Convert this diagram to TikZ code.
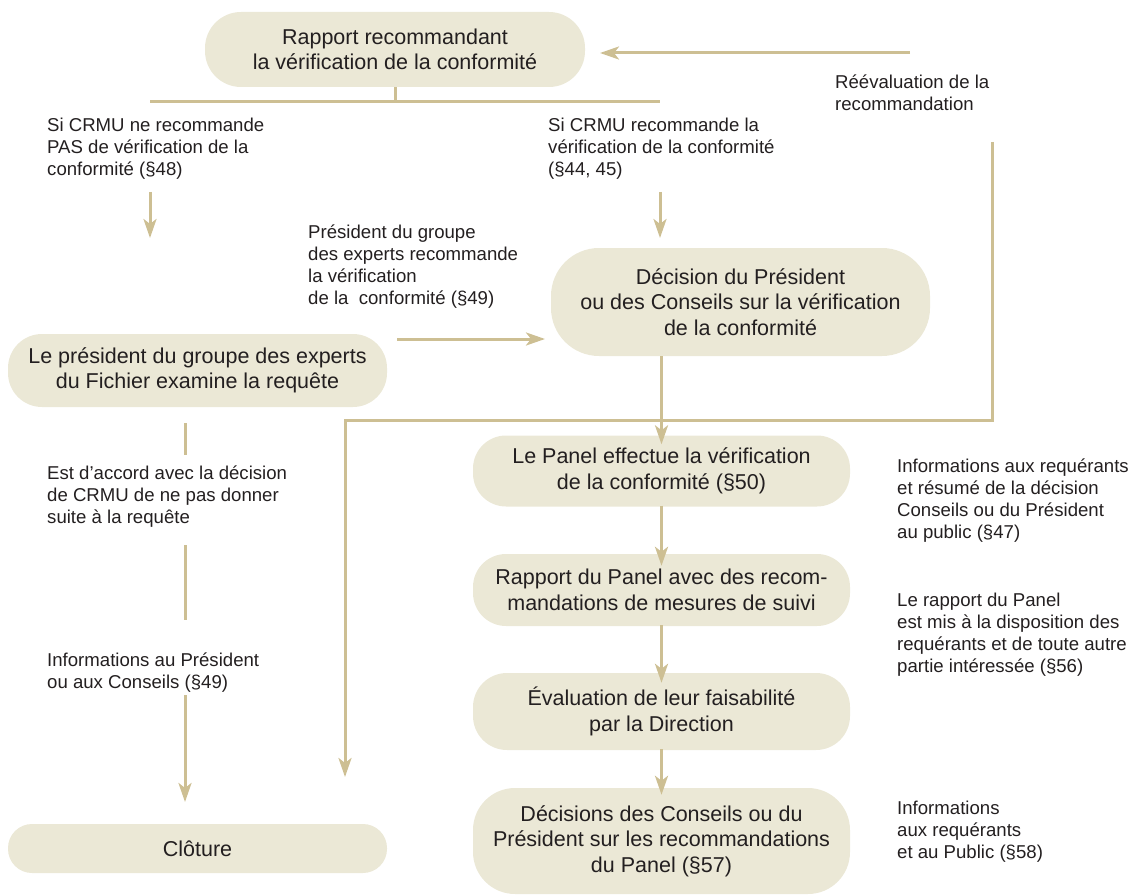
\documentclass[tikz,border=0pt]{standalone}
\usepackage{fontspec}
\setmainfont{Liberation Sans}
\usetikzlibrary{arrows.meta}
\definecolor{boxfill}{HTML}{EBE8D6}
\definecolor{linec}{HTML}{CDBF93}
\definecolor{txt}{HTML}{231F20}
\begin{document}
\begin{tikzpicture}[x=1pt,y=-1pt,
  box/.style={fill=boxfill,draw=none,align=center,text=txt,inner sep=0pt,
    font=\fontsize{21.5}{25.5}\selectfont},
  lbl/.style={anchor=north west,align=left,inner sep=0pt,text=txt,
    font=\fontsize{18.6}{21.8}\selectfont},
  conn/.style={draw=linec,line width=3pt},
  arr/.style={conn,-{Stealth[length=19pt,width=13pt,inset=5pt]}}]
\useasboundingbox (0,0) rectangle (1137,896);

% boxes
\node[box,minimum width=380pt,minimum height=75pt,rounded corners=36pt] (rap) at (395,49.5)
  {Rapport recommandant\\la vérification de la conformité};
\node[box,minimum width=379pt,minimum height=108pt,rounded corners=48pt] (dec) at (740.5,302)
  {Décision du Président\\ou des Conseils sur la vérification\\de la conformité};
\node[box,minimum width=379pt,minimum height=73pt,rounded corners=34pt] (pres) at (197.5,370.5)
  {Le président du groupe des experts\\du Fichier examine la requête};
\node[box,minimum width=377pt,minimum height=71pt,rounded corners=33pt] (panel) at (661.5,471)
  {Le Panel effectue la vérification\\de la conformité (§50)};
\node[box,minimum width=377pt,minimum height=72pt,rounded corners=33pt] (rpan) at (661.5,590)
  {Rapport du Panel avec des recom-\\mandations de mesures de suivi};
\node[box,minimum width=377pt,minimum height=77pt,rounded corners=34pt] (eval) at (661.5,711.5)
  {Évaluation de leur faisabilité\\par la Direction};
\node[box,minimum width=377pt,minimum height=106pt,rounded corners=42pt] (decs) at (661.5,841)
  {Décisions des Conseils ou du\\Président sur les recommandations\\du Panel (§57)};
\node[box,minimum width=379pt,minimum height=49pt,rounded corners=24pt] (clot) at (197.5,848.5)
  {Clôture};

% labels
\node[lbl] (l1) at (47,118) {Si CRMU ne recommande\\PAS de vérification de la\\conformité (§48)};
\node[lbl] (l2) at (548,118) {Si CRMU recommande la\\vérification de la conformité\\(§44, 45)};
\node[lbl] (l3) at (835,75) {Réévaluation de la\\recommandation};
\node[lbl] (l4) at (308,225) {Président du groupe\\des experts recommande\\la vérification\\de la\ \ conformité (§49)};
\node[lbl] (l5) at (47,466) {Est d’accord avec la décision\\de CRMU de ne pas donner\\suite à la requête};
\node[lbl] (l6) at (47,653) {Informations au Président\\ou aux Conseils (§49)};
\node[lbl] (l7) at (897,459) {Informations aux requérants\\et résumé de la décision\\Conseils ou du Président\\au public (§47)};
\node[lbl] (l8) at (897,593) {Le rapport du Panel\\est mis à la disposition des\\requérants et de toute autre\\partie intéressée (§56)};
\node[lbl] (l9) at (897,801) {Informations\\aux requérants\\et au Public (§58)};

% coordinates
\coordinate (hm) at (395,102);
\coordinate (hl) at (150,102);
\coordinate (hr) at (660,102);
\coordinate (al1) at (150,192);
\coordinate (al2) at (150,238);
\coordinate (ar1) at (660,192);
\coordinate (ar2) at (660,238);
\coordinate (re1) at (910,53);
\coordinate (re2) at (600,53);
\coordinate (lp1) at (992,142);
\coordinate (lp2) at (992,420);
\coordinate (lp3) at (345,420);
\coordinate (lp4) at (345,777);
\coordinate (pa1) at (397,339);
\coordinate (pa2) at (545,339);
\coordinate (c1) at (185,423);
\coordinate (c2) at (185,455);
\coordinate (c3) at (185,545);
\coordinate (c4) at (185,620);
\coordinate (c5) at (185,695);
\coordinate (c6) at (185,802);

% connectors
\draw[conn] (rap.south) -- (hm);
\draw[conn] (hl) -- (hr);
\draw[arr] (al1) -- (al2);
\draw[arr] (ar1) -- (ar2);
\draw[arr] (re1) -- (re2);
\draw[arr] (lp1) -- (lp2) -- (lp3) -- (lp4);
\draw[arr] (pa1) -- (pa2);
\draw[arr] (panel.north |- dec.south) -- ([yshift=-9pt]panel.north);
\draw[arr] ([yshift=1pt]panel.south) -- ([yshift=-12pt]rpan.north);
\draw[arr] ([yshift=1pt]rpan.south) -- ([yshift=-10pt]eval.north);
\draw[arr] ([yshift=1pt]eval.south) -- ([yshift=-7pt]decs.north);
\draw[conn] (c1) -- (c2);
\draw[conn] (c3) -- (c4);
\draw[arr] (c5) -- (c6);
\end{tikzpicture}
\end{document}
